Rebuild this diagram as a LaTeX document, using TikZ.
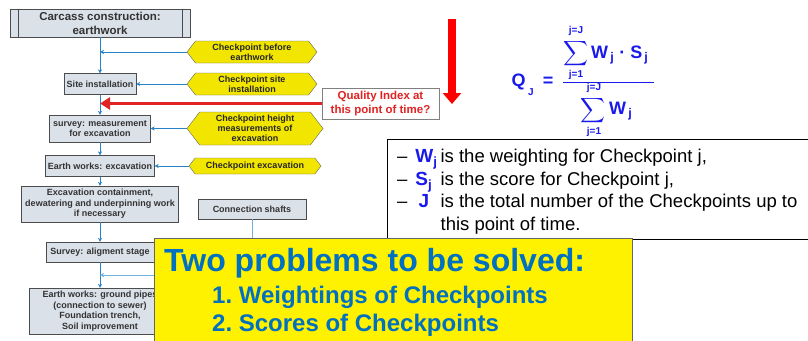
\documentclass[tikz,border=0pt]{standalone}
\usepackage{amsmath}
\usepackage{fontspec}
\setmainfont{Liberation Sans}
\usetikzlibrary{arrows.meta,shapes.symbols}

\definecolor{flowblue}{RGB}{40,130,200}
\definecolor{shaftblue}{RGB}{110,175,220}
\definecolor{boxfill}{RGB}{219,225,233}
\definecolor{cpyellow}{RGB}{242,230,0}
\definecolor{titleblue}{RGB}{0,112,192}
\definecolor{fblue}{RGB}{25,25,235}
\definecolor{qred}{RGB}{225,35,35}

\begin{document}
\begin{tikzpicture}[x=1pt, y=-1pt,
	flow/.style={draw=black!70, fill=boxfill, align=center, inner sep=0pt, text=black!80, font=\fontsize{9}{10.5}\selectfont\bfseries},
	checkpt/.style={signal, signal to=east and west, signal pointer angle=105, draw=black!60, fill=cpyellow, align=center, inner sep=0pt, text=black!85, font=\fontsize{9}{10}\selectfont\bfseries},
	feed/.style={flowblue, -{Stealth[length=4pt,width=4pt]}},
	formel/.style={inner sep=0pt, text=fblue, font=\fontsize{18}{20}\selectfont\bfseries},
	limit/.style={inner sep=0pt, text=fblue, font=\fontsize{10}{12}\selectfont\bfseries},
	bigsum/.style={inner sep=0pt, text=fblue, font=\fontsize{18.5}{20}\selectfont},
	]
	\useasboundingbox (0,0) rectangle (808,340);

	% flow chart on the left
	\node[flow, minimum width=180, minimum height=28, font=\fontsize{11.5}{14}\selectfont\bfseries] (carcass) at (100,23) {Carcass construction:\\earthwork};
	\draw[black!70] ([xshift=8pt]carcass.north west) -- ([xshift=8pt]carcass.south west);
	\draw[black!70] ([xshift=-8pt]carcass.north east) -- ([xshift=-8pt]carcass.south east);
	\node[flow, minimum width=72, minimum height=21] (site) at (100,84) {Site installation};
	\node[flow, minimum width=101, minimum height=27] (survey) at (100,128.5) {survey: measurement\\for excavation};
	\node[flow, minimum width=109, minimum height=21] (earth) at (100,166) {Earth works: excavation};
	\node[flow, minimum width=157, minimum height=36] (contain) at (100,204) {Excavation containment,\\dewatering and underpinning work\\if necessary};
	\node[flow, minimum width=108, minimum height=20] (align) at (100,252) {Survey: aligment stage};
	\node[flow, minimum width=142, minimum height=46] (pipes) at (100,311) {Earth works: ground pipes\\(connection to sewer)\\Foundation trench,\\Soil improvement};
	\node[flow, minimum width=108, minimum height=20] (shafts) at (252,209) {Connection shafts};

	\coordinate (m1) at (100,52);
	\coordinate (m2) at (100,103.5);
	\coordinate (m3) at (100,275);

	\draw[feed] (carcass.south) -- (site.north);
	\draw[feed] (site.south) -- (survey.north);
	\draw[feed] (survey.south) -- (earth.north);
	\draw[feed] (earth.south) -- (contain.north);
	\draw[feed] (contain.south) -- (align.north);
	\draw[feed] (align.south) -- (pipes.north);

	% checkpoints
	\node[checkpt, minimum width=130, minimum height=22] (cp1) at (252,52) {Checkpoint before\\earthwork};
	\node[checkpt, minimum width=130, minimum height=22] (cp2) at (252,84) {Checkpoint site\\installation};
	\node[checkpt, minimum width=136, minimum height=33] (cp3) at (255,128.5) {Checkpoint height\\measurements of\\excavation};
	\node[checkpt, minimum width=132, minimum height=16] (cp4) at (255,166) {Checkpoint excavation};

	\draw[feed] (cp1.west) -- (m1);
	\draw[feed] (cp2.west) -- (site.east);
	\draw[feed] (cp3.west) -- (survey.east);
	\draw[feed] (cp4.west) -- (earth.east);
	\draw[shaftblue, -{Stealth[length=4pt,width=4pt]}] (shafts.south) |- (m3);

	% quality index
	\node[draw=black!50, line width=1pt, fill=white, align=center, minimum width=117, minimum height=31, inner sep=0pt, text=qred, font=\fontsize{11.5}{13.5}\selectfont\bfseries] (quality) at (380.5,103.5) {Quality Index at\\this point of time?};
	\draw[qred, line width=3.5pt, -{Triangle[length=10pt,width=12pt]}] (quality.west) -- (m2);

	\coordinate (downtop) at (452,19);
	\coordinate (downend) at (452,104);
	\draw[red, line width=8pt, -{Triangle[length=11pt,width=18pt]}] (downtop) -- (downend);

	% formula
	\node[formel] (q) at (518.5,82) {Q};
	\node[limit] (qsub) at (531,92) {J};
	\node[formel] (eq) at (548,82) {=};
	\node[limit] (numtop) at (576,30.5) {j=J};
	\node[bigsum] (numsum) at (576,53.5) {$\displaystyle\sum$};
	\node[limit] (numbot) at (576,75) {j=1};
	\node[formel, anchor=base west] (numws) at (591,58) {W\textsubscript{\,j}\hspace{5pt}·\hspace{5pt}S\textsubscript{\,j}};
	\coordinate (fracl) at (563,82);
	\coordinate (fracr) at (654,82);
	\draw[fblue, line width=1pt] (fracl) -- (fracr);
	\node[limit] (dentop) at (594,88) {j=J};
	\node[bigsum] (densum) at (593,110.5) {$\displaystyle\sum$};
	\node[limit] (denbot) at (594,132) {j=1};
	\node[formel, anchor=base west] (denw) at (609,114) {W\textsubscript{\,j}};

	% explanation box
	\draw[black, line width=1pt] (808,139) -| (387,239) -- (808,239);
	\node[anchor=north west, inner sep=0pt, font=\fontsize{18.5}{22.5}\selectfont] (notes) at (397,147)
		{\begin{tabular}{@{}l@{\hspace{8pt}}l@{\hspace{3pt}}l@{}}
		-- & \textcolor{fblue}{\fontsize{19}{22.5}\selectfont\bfseries W\textsubscript{j}} & is the weighting for Checkpoint j,\\
		-- & \textcolor{fblue}{\fontsize{19}{22.5}\selectfont\bfseries S\textsubscript{j}} & is the score for Checkpoint j,\\
		-- & \textcolor{fblue}{\fontsize{19}{22.5}\selectfont\bfseries \,J} & is the total number of the Checkpoints up to\\
		   &  & this point of time.
		\end{tabular}};

	% the two problems
	\node[draw=black!60, line width=1pt, fill=yellow, anchor=north west, minimum width=478, minimum height=110, inner sep=0pt] (problems) at (154,238) {};
	\node[anchor=west, inner sep=0pt, text=titleblue, font=\fontsize{32}{36}\selectfont\bfseries] (title) at (164,263) {Two problems to be solved:};
	\node[anchor=west, inner sep=0pt, text=titleblue, font=\fontsize{24}{28}\selectfont\bfseries] (item1) at (212,297) {1.\ Weightings of Checkpoints};
	\node[anchor=west, inner sep=0pt, text=titleblue, font=\fontsize{24}{28}\selectfont\bfseries] (item2) at (212,325) {2.\ Scores of Checkpoints};
\end{tikzpicture}
\end{document}
